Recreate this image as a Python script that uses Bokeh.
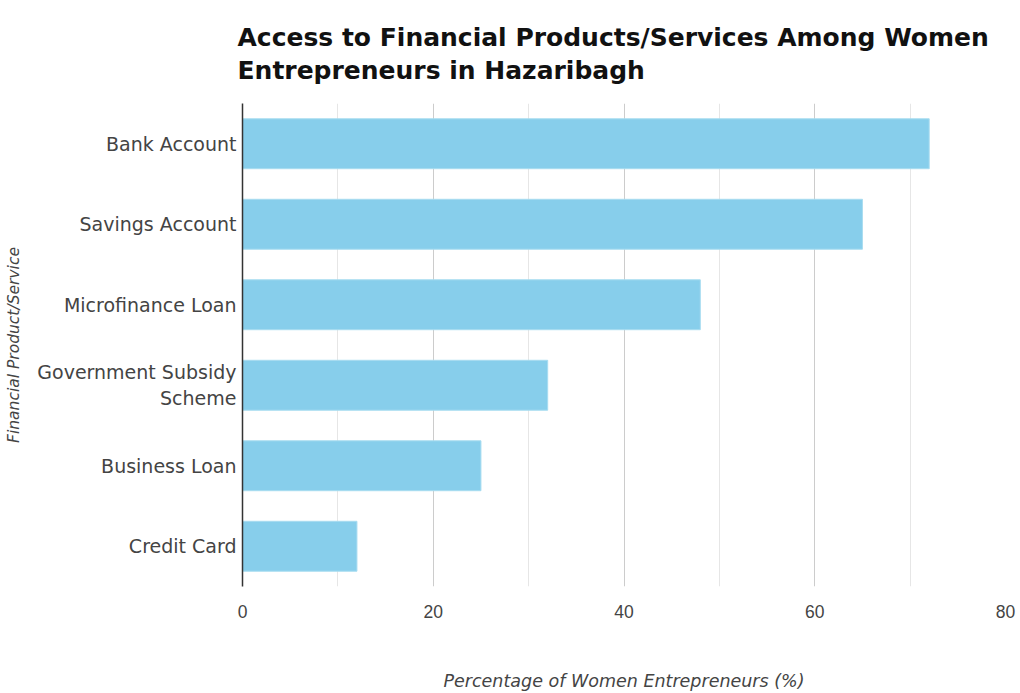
from bokeh.plotting import figure
from bokeh.models import FactorRange, Range1d, FixedTicker, Title
from bokeh.embed import file_html
from bokeh.resources import INLINE

categories = ["Bank Account", "Savings Account", "Microfinance Loan",
              "Government Subsidy\nScheme", "Business Loan", "Credit Card"]
values = [72, 65, 48, 32, 25, 12]
x_ticks = [0, 20, 40, 60, 80]
minor_ticks = [10, 30, 50, 70]
title_text = "Access to Financial Products/Services Among Women\nEntrepreneurs in Hazaribagh"

factors = list(reversed(categories))

p = figure(width=1020, height=693, output_backend="svg", toolbar_location=None,
           y_range=FactorRange(factors=factors, range_padding=0),
           x_range=Range1d(0, 80),
           min_border_left=242, min_border_right=15, min_border_top=103,
           min_border_bottom=101)
p.title = None
p.outline_line_color = None

p.hbar(y=categories, right=values, left=0, height=0.62,
       fill_color="#87CEEB", line_color="#a8dcf0", line_width=1)

font = "DejaVu Sans"

t1 = Title(text=title_text, text_font=font, text_font_size="25px",
           text_font_style="bold", text_color="#111111", align="left", offset=-5,
           text_line_height=1.15, standoff=37)
p.add_layout(t1, "above")

# x axis
xa = p.xaxis[0]
xa.ticker = FixedTicker(ticks=x_ticks, minor_ticks=minor_ticks)
xa.axis_line_color = None
xa.major_tick_line_color = None
xa.minor_tick_line_color = None
xa.major_label_text_font = "Liberation Sans"
xa.major_label_text_font_size = "17.5px"
xa.major_label_text_color = "#444444"
xa.major_label_standoff = 12
xa.axis_label = "Percentage of Women Entrepreneurs (%)"
xa.axis_label_text_font = font
xa.axis_label_text_font_size = "17.5px"
xa.axis_label_text_font_style = "italic"
xa.axis_label_text_color = "#444444"
xa.axis_label_standoff = 50

# y axis
ya = p.yaxis[0]
ya.axis_line_color = "#333333"
ya.axis_line_width = 1.5
ya.major_tick_line_color = None
ya.minor_tick_line_color = None
ya.major_label_text_font = font
ya.major_label_text_font_size = "19px"
ya.major_label_text_color = "#444444"
ya.major_label_standoff = 0
ya.axis_label = "Financial Product/Service"
ya.axis_label_text_font = font
ya.axis_label_text_font_size = "15.5px"
ya.axis_label_text_font_style = "italic"
ya.axis_label_text_color = "#444444"
ya.axis_label_standoff = 11

p.xgrid.grid_line_color = "#cccccc"
p.xgrid.grid_line_width = 1
p.xgrid.minor_grid_line_color = "#e6e6e6"
p.ygrid.grid_line_color = None

open("out.html", "w").write(file_html(p, INLINE))
